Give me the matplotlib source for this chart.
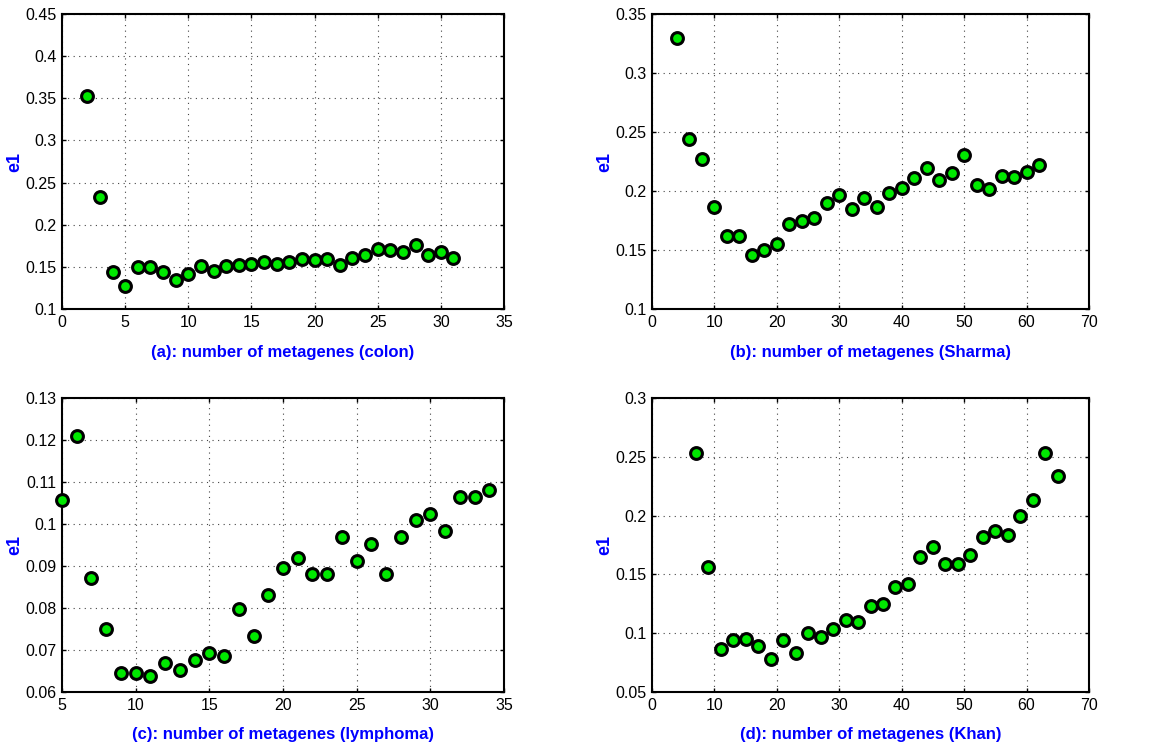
import matplotlib
matplotlib.use("Agg")
import matplotlib.pyplot as plt

# ------------------------------------------------------------------ #
# Data
# ------------------------------------------------------------------ #
colon_k = list(range(2, 32))
colon_e1 = [0.353, 0.233, 0.1435, 0.127, 0.150, 0.1495, 0.1435, 0.134, 0.1416,
            0.1507, 0.1452, 0.1507, 0.152, 0.153, 0.156, 0.153, 0.1554, 0.159,
            0.158, 0.159, 0.152, 0.1606, 0.1637, 0.1717, 0.170, 0.1677, 0.1756,
            0.1637, 0.1677, 0.1606]

sharma_k = list(range(4, 64, 2))
sharma_e1 = [0.330, 0.2442, 0.2275, 0.1865, 0.1622, 0.1617, 0.1455, 0.150,
             0.1549, 0.1724, 0.1744, 0.1767, 0.1902, 0.1967, 0.1851, 0.1942,
             0.1865, 0.1984, 0.2024, 0.2109, 0.2191, 0.2092, 0.2151, 0.2301,
             0.2049, 0.2018, 0.2126, 0.212, 0.216, 0.2224]

lymph_k = list(range(5, 35))
lymph_e1 = [0.1057, 0.1210, 0.0871, 0.0750, 0.0645, 0.0645, 0.0637, 0.0669,
            0.0653, 0.0677, 0.0693, 0.0685, 0.0798, 0.0734, 0.0830, 0.0895,
            0.0919, 0.0880, 0.0880, 0.0968, 0.0912, 0.0952, 0.0880, 0.0968,
            0.1009, 0.1024, 0.0984, 0.1065, 0.1065, 0.1081]

khan_k = list(range(7, 67, 2))
khan_e1 = [0.2531, 0.1566, 0.0868, 0.0941, 0.0952, 0.089, 0.0783, 0.0941,
           0.0831, 0.100, 0.0964, 0.1037, 0.1108, 0.1097, 0.1230, 0.1252,
           0.1397, 0.1422, 0.1651, 0.1736, 0.1592, 0.1592, 0.1663, 0.1818,
           0.1866, 0.1832, 0.1999, 0.2132, 0.2531, 0.2335]

labels = ["(a): number of metagenes (colon)",
          "(b): number of metagenes (Sharma)",
          "(c): number of metagenes (lymphoma)",
          "(d): number of metagenes (Khan)"]

plt.rcParams["font.family"] = ["Liberation Sans", "DejaVu Sans"]

fig = plt.figure(figsize=(11.67, 7.45), dpi=100)
W, H = 1167, 745

# axes boxes in pixels: (left, top, right, bottom)
boxes = [(62, 14, 504, 309), (652, 14, 1089, 309),
         (62, 398, 504, 692), (652, 398, 1089, 692)]
panels = [
    (colon_k, colon_e1, (0, 35), range(0, 36, 5), (0.1, 0.45),
     [0.1, 0.15, 0.2, 0.25, 0.3, 0.35, 0.4, 0.45]),
    (sharma_k, sharma_e1, (0, 70), range(0, 71, 10), (0.1, 0.35),
     [0.1, 0.15, 0.2, 0.25, 0.3, 0.35]),
    (lymph_k, lymph_e1, (5, 35), range(5, 36, 5), (0.06, 0.13),
     [0.06, 0.07, 0.08, 0.09, 0.1, 0.11, 0.12, 0.13]),
    (khan_k, khan_e1, (0, 70), range(0, 71, 10), (0.05, 0.3),
     [0.05, 0.1, 0.15, 0.2, 0.25, 0.3]),
]


def fmt(v):
    return f"{v:.2f}".rstrip("0").rstrip(".")


for (l, t, r, b), (xs, ys, xlim, xt, ylim, yt), lab in zip(boxes, panels, labels):
    ax = fig.add_axes([l / W, 1 - b / H, (r - l) / W, (b - t) / H])
    ax.plot(xs, ys, linestyle="none", marker="o", markersize=8.5,
            markerfacecolor="#00e800", markeredgecolor="black",
            markeredgewidth=2.2, clip_on=False, zorder=3)
    ax.set_xlim(*xlim)
    ax.set_ylim(*ylim)
    ax.set_xticks(list(xt))
    ax.set_yticks(yt)
    ax.set_yticklabels([fmt(v) for v in yt])
    ax.tick_params(direction="in", length=3, width=1, labelsize=11.5,
                   top=True, right=True, pad=4)
    ax.grid(True, linestyle=(0, (1, 4)), color="#444444", linewidth=0.8)
    for sp in ax.spines.values():
        sp.set_linewidth(1.5)
    ax.set_xlabel(lab, color="blue", fontweight="bold", fontsize=12)
    ax.xaxis.set_label_coords(0.5, -43 / (b - t), transform=ax.transAxes)
    ax.set_ylabel("e1", color="blue", fontweight="bold", fontsize=13)
    ax.yaxis.set_label_coords(-47 / (r - l), 0.5, transform=ax.transAxes)
    ax.xaxis.label.set_va("center")
    ax.yaxis.label.set_va("center")

fig.savefig("out.png", dpi=100)
